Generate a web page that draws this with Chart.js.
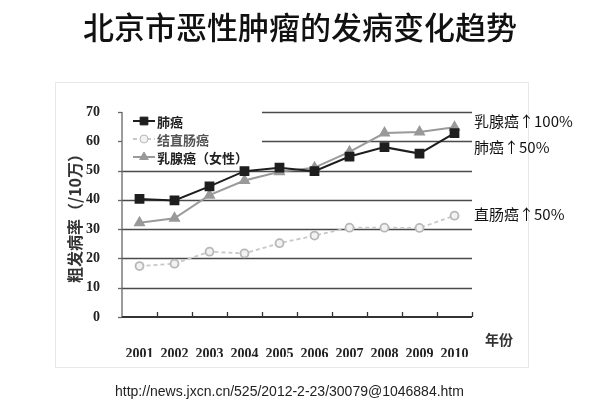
<!DOCTYPE html>
<html>
<head>
<meta charset="utf-8">
<script src="https://cdn.jsdelivr.net/npm/chart.js@4/dist/chart.umd.min.js"></script>
<style>
  html, body { margin: 0; padding: 0; background: #fff; }
  #wrap { position: relative; width: 600px; height: 413px; overflow: hidden; }
  #frame { position: absolute; left: 55px; top: 82px; width: 472px; height: 284px; border: 1px solid #e8e8e8; }
  canvas { position: absolute; left: 0; top: 0; }
  .txt { position: absolute; white-space: nowrap; color: #111; font-family: "Noto Sans CJK SC", "Noto Sans", sans-serif; }
  #title { left: 0; width: 600px; top: 6px; text-align: center; font-size: 31px; line-height: 40px; font-weight: 500; }
  .note { left: 474px; font-size: 15px; line-height: 18px; }
  #xname { left: 485px; top: 329px; font-size: 14px; font-weight: bold; color: #333; }
  #src { left: 115px; top: 382px; font-family: "Liberation Sans", Arial, sans-serif; font-size: 14px; line-height: 18px; color: #222; }
</style>
</head>
<body>
<div id="wrap">
  <div id="frame"></div>
  <canvas id="chart" width="600" height="413"></canvas>
  <div class="txt" id="title">北京市恶性肿瘤的发病变化趋势</div>
  <div class="txt note" style="top:112px">乳腺癌↑100%</div>
  <div class="txt note" style="top:138px">肺癌↑50%</div>
  <div class="txt note" style="top:205px">直肠癌↑50%</div>
  <div class="txt" id="xname">年份</div>
  <div class="txt" id="src">http://news.jxcn.cn/525/2012-2-23/30079@1046884.htm</div>
</div>
<script>
// data
const years = ['2001', '2002', '2003', '2004', '2005', '2006', '2007', '2008', '2009', '2010'];
const lungCancer = [40.3, 39.8, 44.6, 49.8, 51.0, 49.8, 54.8, 58.0, 55.8, 62.8];
const colorectalCancer = [17.4, 18.2, 22.3, 21.7, 25.2, 27.8, 30.5, 30.5, 30.4, 34.6];
const breastCancer = [32.2, 33.7, 41.6, 46.6, 49.6, 51.0, 56.4, 62.8, 63.2, 64.8];
const yTicks = [0, 10, 20, 30, 40, 50, 60, 70];
const seriesNames = ['肺癌', '结直肠癌', '乳腺癌（女性）'];

const serifBold = { family: '"Liberation Serif", "DejaVu Serif", serif', size: 14, weight: 'bold' };
const cjkBold = '"Noto Sans CJK SC", sans-serif';
const legendRight = 262;

// gridlines, tick marks and the legend are drawn by hand so the legend box can sit on the grid
const gridAndLegend = {
    id: 'gridAndLegend',
    beforeDatasetsDraw(chart) {
        const { ctx, chartArea: a, scales: { x, y } } = chart;
        ctx.save();

        // horizontal gridlines
        ctx.strokeStyle = '#4a4a4a';
        ctx.lineWidth = 1.6;
        yTicks.forEach(v => {
            if (v === 0) return;
            const py = Math.round(y.getPixelForValue(v)) + 0.5;
            const x0 = v >= 60 ? legendRight : a.left;
            ctx.beginPath();
            ctx.moveTo(x0, py);
            ctx.lineTo(a.right, py);
            ctx.stroke();
        });

        // y axis + small outward ticks
        ctx.strokeStyle = '#666';
        ctx.lineWidth = 1.3;
        ctx.beginPath();
        ctx.moveTo(a.left, y.getPixelForValue(70));
        ctx.lineTo(a.left, a.bottom);
        ctx.stroke();
        yTicks.forEach(v => {
            const py = Math.round(y.getPixelForValue(v)) + 0.5;
            ctx.beginPath();
            ctx.moveTo(a.left - 4, py);
            ctx.lineTo(a.left, py);
            ctx.stroke();
        });

        // x axis + inward ticks between years
        ctx.strokeStyle = '#333';
        ctx.lineWidth = 2;
        ctx.beginPath();
        ctx.moveTo(a.left, a.bottom);
        ctx.lineTo(a.right, a.bottom);
        ctx.stroke();
        ctx.lineWidth = 1.3;
        const half = (x.getPixelForValue(1) - x.getPixelForValue(0)) / 2;
        years.forEach((yr, i) => {
            const px = Math.round(x.getPixelForValue(i) + half) + 0.5;
            ctx.beginPath();
            ctx.moveTo(px, a.bottom);
            ctx.lineTo(px, a.bottom - 5);
            ctx.stroke();
        });

        // legend
        const rows = [121, 139, 157];
        chart.data.datasets.forEach((ds, i) => {
            const ry = rows[i];
            ctx.strokeStyle = ds.borderColor;
            ctx.lineWidth = 2;
            ctx.setLineDash(ds.borderDash || []);
            ctx.beginPath();
            ctx.moveTo(133, ry);
            ctx.lineTo(155, ry);
            ctx.stroke();
            ctx.setLineDash([]);
            ctx.fillStyle = ds.pointBackgroundColor;
            ctx.strokeStyle = ds.pointBorderColor;
            ctx.lineWidth = 1;
            Chart.helpers.drawPoint(ctx, { pointStyle: ds.pointStyle, radius: ds.pointRadius, borderWidth: 1, rotation: 0 }, 144, ry);
            ctx.fillStyle = i === 1 ? '#555' : '#222';
            ctx.font = 'bold 13px ' + cjkBold;
            ctx.textBaseline = 'middle';
            ctx.fillText(ds.label, 157, ry + 1);
        });

        ctx.restore();
    }
};

new Chart(document.getElementById('chart'), {
    type: 'line',
    data: {
        labels: years,
        datasets: [
            {
                label: seriesNames[0],
                data: lungCancer,
                borderColor: '#1e1e1e',
                borderWidth: 2,
                pointStyle: 'rect',
                pointRadius: 5.5,
                pointBackgroundColor: '#1e1e1e',
                pointBorderColor: '#1e1e1e',
                tension: 0
            },
            {
                label: seriesNames[1],
                data: colorectalCancer,
                borderColor: '#c8c8c8',
                borderWidth: 1.8,
                borderDash: [4, 3],
                pointStyle: 'circle',
                pointRadius: 4,
                pointBackgroundColor: '#f2f2f2',
                pointBorderColor: '#b8b8b8',
                tension: 0
            },
            {
                label: seriesNames[2],
                data: breastCancer,
                borderColor: '#9a9a9a',
                borderWidth: 2,
                pointStyle: 'triangle',
                pointRadius: 5,
                pointBackgroundColor: '#999',
                pointBorderColor: '#999',
                tension: 0
            }
        ]
    },
    options: {
        responsive: false,
        animation: false,
        layout: { padding: { left: 62, top: 112, right: 128, bottom: 56 } },
        plugins: {
            legend: { display: false },
            tooltip: { enabled: false }
        },
        scales: {
            x: {
                type: 'category',
                offset: true,
                grid: { display: false },
                border: { display: false },
                ticks: { color: '#222', font: serifBold, padding: 21, maxRotation: 0, autoSkip: false },
                afterFit: s => { s.height = 40; }
            },
            y: {
                min: 0,
                max: 70,
                afterBuildTicks: s => { s.ticks = yTicks.map(v => ({ value: v })); },
                grid: { display: false },
                border: { display: false },
                ticks: { color: '#222', font: serifBold, padding: 14 },
                title: {
                    display: true,
                    text: '粗发病率（/10万）',
                    color: '#333',
                    font: { family: cjkBold, size: 16, weight: 'bold' },
                    padding: { top: 3, bottom: 0 }
                },
                afterFit: s => { s.width = 60; }
            }
        }
    },
    plugins: [gridAndLegend]
});
</script>
</body>
</html>
